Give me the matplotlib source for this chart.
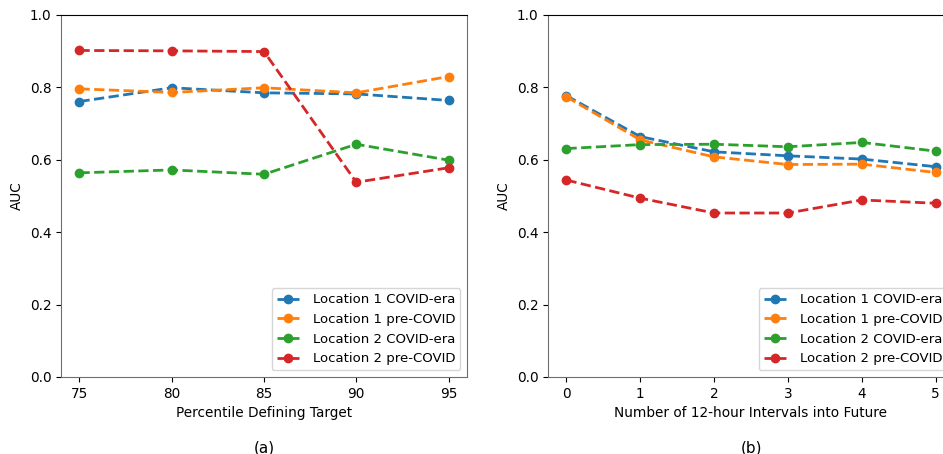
import matplotlib
matplotlib.use("Agg")
import matplotlib.pyplot as plt

# Panel (a): AUC versus percentile defining the target
percentiles = [75, 80, 85, 90, 95]
a_loc1_covid = [0.761, 0.799, 0.785, 0.782, 0.764]
a_loc1_pre = [0.796, 0.786, 0.799, 0.785, 0.830]
a_loc2_covid = [0.564, 0.572, 0.560, 0.643, 0.599]
a_loc2_pre = [0.902, 0.901, 0.899, 0.538, 0.578]

# Panel (b): AUC versus forecast horizon
horizons = [0, 1, 2, 3, 4, 5]
b_loc1_covid = [0.777, 0.664, 0.622, 0.611, 0.602, 0.581]
b_loc1_pre = [0.774, 0.655, 0.608, 0.587, 0.588, 0.565]
b_loc2_covid = [0.631, 0.642, 0.643, 0.636, 0.648, 0.624]
b_loc2_pre = [0.544, 0.494, 0.453, 0.453, 0.489, 0.480]

labels = ["Location 1 COVID-era", "Location 1 pre-COVID",
          "Location 2 COVID-era", "Location 2 pre-COVID"]
colors = ["#1f77b4", "#ff7f0e", "#2ca02c", "#d62728"]

W, H = 943, 454
fig = plt.figure(figsize=(W / 100, H / 100), dpi=100)

ax_a = fig.add_axes([61 / W, 1 - 377 / H, 406 / W, 362 / H])
ax_b = fig.add_axes([548 / W, 1 - 377 / H, 406 / W, 362 / H])

panels = [
    (ax_a, percentiles, [a_loc1_covid, a_loc1_pre, a_loc2_covid, a_loc2_pre],
     "Percentile Defining Target", "(a)"),
    (ax_b, horizons, [b_loc1_covid, b_loc1_pre, b_loc2_covid, b_loc2_pre],
     "Number of 12-hour Intervals into Future", "(b)"),
]

for ax, xs, series, xlabel, tag in panels:
    for ys, lab, col in zip(series, labels, colors):
        ax.plot(xs, ys, linestyle="--", marker="o", color=col, label=lab,
                linewidth=2, markersize=6)
    ax.set_ylim(0.0, 1.0)
    ax.set_xticks(xs)
    ax.set_xlabel(xlabel, fontsize=9.8)
    ax.set_ylabel("AUC", fontsize=9.8)
    ax.tick_params(labelsize=9.8)
    for side in ["left", "right", "bottom"]:
        ax.spines[side].set_color("#6e6e6e")
    ax.spines["top"].set_color("black")
    ax.legend(loc="lower right", fontsize=9.5, handlelength=1.7,
              handletextpad=1.0, borderaxespad=0.5)
    ax.text(0.5, -0.175, tag, transform=ax.transAxes, ha="center", va="top",
            fontsize=11)

fig.savefig("out.png", dpi=100)
